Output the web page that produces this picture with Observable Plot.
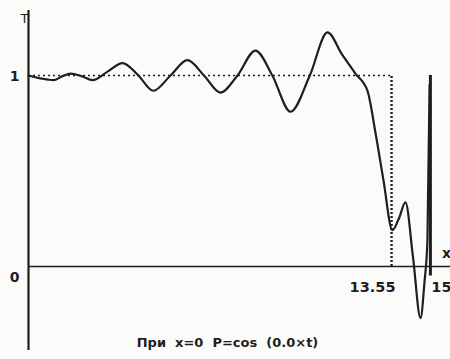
<!DOCTYPE html>
<html>
<head>
<meta charset="utf-8">
<script src="https://cdn.jsdelivr.net/npm/d3@7"></script>
<script src="https://cdn.jsdelivr.net/npm/@observablehq/plot@0.6"></script>
<style>
  html, body { margin: 0; padding: 0; background: #fbfbfa; }
  svg { display: block; }
</style>
</head>
<body>
<div id="chart"></div>
<script>
// Curve T(x)
const xs = [0, 0.45, 0.93, 1.25, 1.57, 2.0, 2.39, 2.95, 3.51, 4.1, 4.66, 5.3, 5.93, 6.55, 7.16, 7.8, 8.47, 9.1, 9.78, 10.5, 11.16, 11.7, 12.2, 12.65, 12.95, 13.25, 13.58, 13.82, 14.07, 14.35, 14.63, 14.78, 14.89, 14.97];
const ts = [1.0, 0.985, 0.975, 0.995, 1.01, 0.995, 0.975, 1.02, 1.065, 1.0, 0.92, 1.0, 1.08, 1.0, 0.91, 1.0, 1.13, 1.0, 0.81, 1.0, 1.225, 1.11, 1.01, 0.92, 0.70, 0.45, 0.19, 0.25, 0.335, 0.05, -0.27, -0.08, 0.14, 0.95];
// Marked points
const markX = [13.55, 15];
const markLabels = ["13.55", "15"];
const yTicks = [0, 1];
const yTickLabels = ["0", "1"];
const caption = "При  x=0  P=cos  (0.0×t)";
const xAxisLabel = "x";
const yAxisLabel = "T";

const curve = xs.map((x, i) => ({x, t: ts[i]}));
const ink = "#1e1e1e";

const chart = Plot.plot({
  width: 450,
  height: 359,
  marginLeft: 28,
  marginRight: 0,
  marginTop: 10,
  marginBottom: 9,
  style: {background: "#fbfbfa", fontFamily: "DejaVu Sans", color: ink},
  x: {domain: [0, 15.75], axis: null},
  y: {domain: [-0.44, 1.34], axis: null},
  marks: [
    // dotted guides
    Plot.ruleY([1], {x1: 0, x2: markX[0], stroke: ink, strokeWidth: 1.6, strokeDasharray: "2,3"}),
    Plot.ruleX([markX[0]], {y1: 0, y2: 1, stroke: ink, strokeWidth: 2.4, strokeDasharray: "2,2"}),
    Plot.ruleX([markX[1]], {y1: -0.05, y2: 1, stroke: ink, strokeWidth: 3}),
    // axes
    Plot.ruleY([0], {stroke: ink, strokeWidth: 1.6}),
    Plot.ruleX([0], {stroke: ink, strokeWidth: 2.2}),
    // curve
    Plot.line(curve, {x: "x", y: "t", curve: "monotone-x", stroke: ink, strokeWidth: 2.2}),
    // tick labels
    Plot.text([yTicks[1]], {x: 0, y: d => d, text: [yTickLabels[1]], dx: -14, dy: 1, fontSize: 14, fontWeight: "bold", fill: ink}),
    Plot.text([yTicks[0]], {x: 0, y: d => d, text: [yTickLabels[0]], dx: -14, dy: 11, fontSize: 14, fontWeight: "bold", fill: ink}),
    Plot.text([markX[0]], {x: d => d, y: 0, text: [markLabels[0]], dx: -19, dy: 21, fontSize: 14.5, fontWeight: "bold", fill: ink}),
    Plot.text([markX[1]], {x: d => d, y: 0, text: [markLabels[1]], dx: 11, dy: 21, fontSize: 14.5, fontWeight: "bold", fill: ink}),
    Plot.text([yAxisLabel], {frameAnchor: "top-left", dx: -8, dy: 3, fontSize: 13, fill: ink}),
    Plot.text([xAxisLabel], {x: 15.75, y: 0, dx: -4, dy: -13, fontSize: 14, fontWeight: "bold", fill: ink}),
    Plot.text([caption], {frameAnchor: "bottom", dx: -12, dy: -4, fontSize: 13, fill: ink, fontWeight: "bold"})
  ]
});
chart.querySelectorAll("text").forEach(t => t.setAttribute("xml:space", "preserve"));
d3.select(chart).selectAll("text").style("white-space", "pre");
document.getElementById("chart").append(chart);
</script>
</body>
</html>
